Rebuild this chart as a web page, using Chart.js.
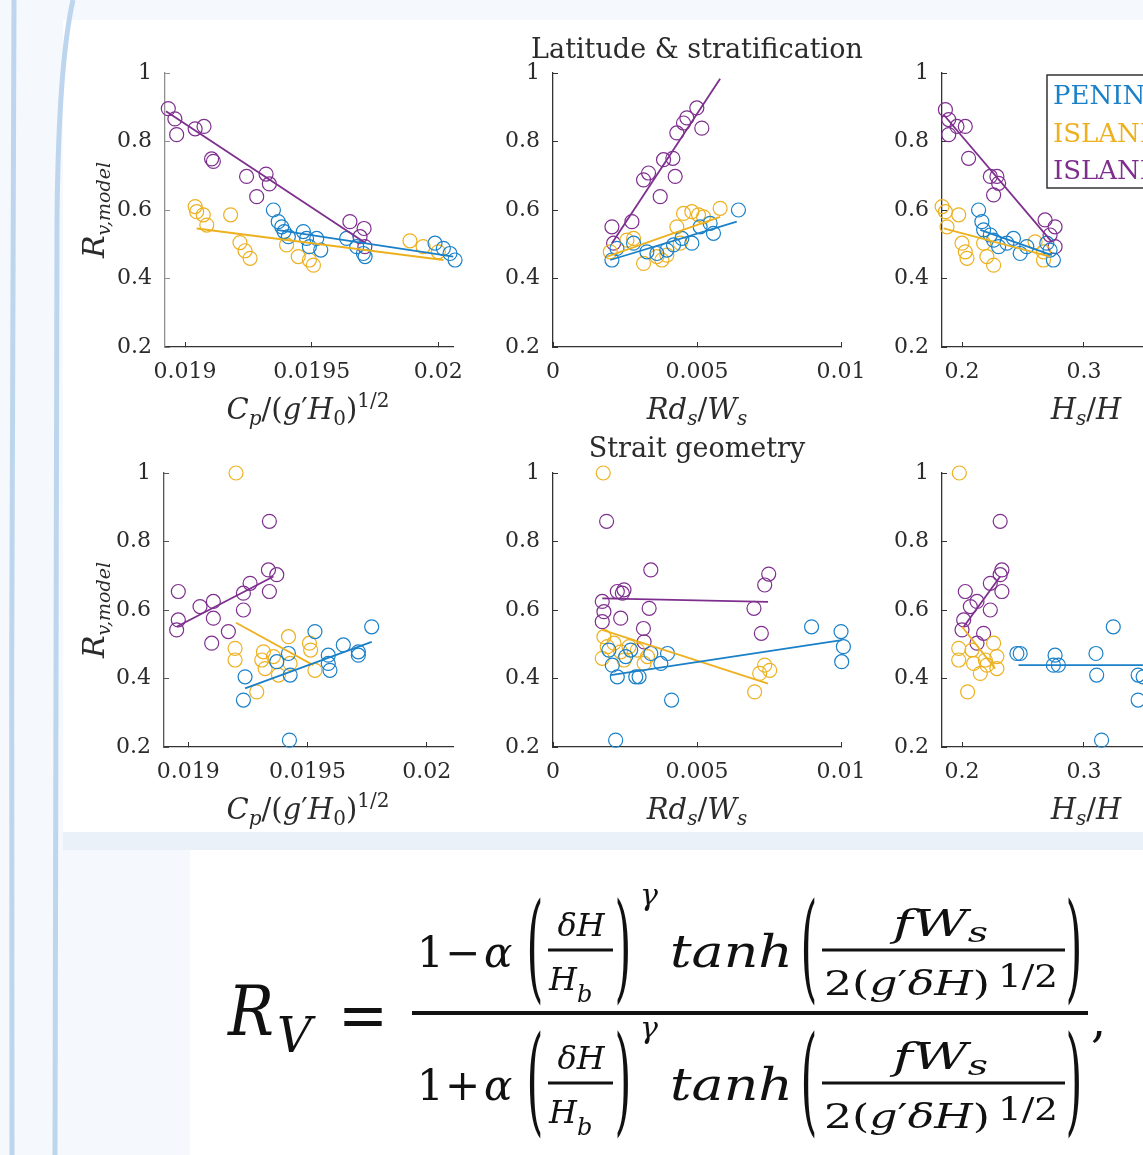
<!DOCTYPE html>
<html>
<head>
<meta charset="utf-8">
<title>Rv model sensitivity</title>
<script src="https://cdn.jsdelivr.net/npm/chart.js@4.4.0/dist/chart.umd.min.js"></script>
<style>
    html, body { margin: 0; padding: 0; width: 1143px; height: 1155px; overflow: hidden; background: #f5f8fc; }
    #panel { position: absolute; left: 63px; top: 20px; width: 1200px; height: 812px; background: #fff; }
    #band { position: absolute; left: 63px; top: 832px; width: 1200px; height: 18px; background: #eaf1f9; }
    #fbox { position: absolute; left: 190px; top: 850px; width: 1100px; height: 305px; background: #fff; }
    #deco, #overlay { position: absolute; left: 0; top: 0; pointer-events: none; }
    canvas { position: absolute; }
    #overlay text { font-family: "DejaVu Serif", serif; fill: #2b2b2b; }
    #overlay .formula text { fill: #111; }
</style>
</head>
<body>
<div id="panel"></div>
<div id="band"></div>
<div id="fbox"></div>
<svg id="deco" width="1143" height="1155">
    <path d="M 14 0 C 12 300, 11 800, 12 1155" stroke="#bdd6ee" stroke-width="5" fill="none"/>
    <path d="M 73 0 C 64 40, 58 110, 57 220 L 55 1155" stroke="#bdd6ee" stroke-width="5" fill="none"/>
</svg>

<canvas id="latCp"></canvas>
<canvas id="latRd"></canvas>
<canvas id="latHs"></canvas>
<canvas id="geoCp"></canvas>
<canvas id="geoRd"></canvas>
<canvas id="geoHs"></canvas>

<svg id="overlay" width="1143" height="1155">
    <!-- panel titles -->
    <text x="697" y="58" font-size="27" text-anchor="middle">Latitude &amp; stratification</text>
    <text x="697" y="457" font-size="27" text-anchor="middle">Strait geometry</text>

    <!-- y axis labels -->
    <text transform="translate(104,210) rotate(-90)" font-size="30" text-anchor="middle"><tspan font-style="italic">R</tspan><tspan font-size="19" dy="6" font-style="italic">v,model</tspan></text>
    <text transform="translate(104,610) rotate(-90)" font-size="30" text-anchor="middle"><tspan font-style="italic">R</tspan><tspan font-size="19" dy="6" font-style="italic">v,model</tspan></text>

    <!-- x axis labels, top row -->
    <text x="308" y="419" font-size="29" text-anchor="middle"><tspan font-style="italic">C</tspan><tspan font-size="20" dy="6" font-style="italic">p</tspan><tspan dy="-6">/(</tspan><tspan font-style="italic">g</tspan>′<tspan font-style="italic">H</tspan><tspan font-size="20" dy="6">0</tspan><tspan dy="-6">)</tspan><tspan font-size="20" dy="-12">1/2</tspan></text>
    <text x="697" y="419" font-size="29" text-anchor="middle"><tspan font-style="italic">Rd</tspan><tspan font-size="20" dy="6" font-style="italic">s</tspan><tspan dy="-6">/</tspan><tspan font-style="italic">W</tspan><tspan font-size="20" dy="6" font-style="italic">s</tspan></text>
    <text x="1086" y="419" font-size="29" text-anchor="middle"><tspan font-style="italic">H</tspan><tspan font-size="20" dy="6" font-style="italic">s</tspan><tspan dy="-6">/</tspan><tspan font-style="italic">H</tspan></text>

    <!-- x axis labels, bottom row -->
    <text x="308" y="819" font-size="29" text-anchor="middle"><tspan font-style="italic">C</tspan><tspan font-size="20" dy="6" font-style="italic">p</tspan><tspan dy="-6">/(</tspan><tspan font-style="italic">g</tspan>′<tspan font-style="italic">H</tspan><tspan font-size="20" dy="6">0</tspan><tspan dy="-6">)</tspan><tspan font-size="20" dy="-12">1/2</tspan></text>
    <text x="697" y="819" font-size="29" text-anchor="middle"><tspan font-style="italic">Rd</tspan><tspan font-size="20" dy="6" font-style="italic">s</tspan><tspan dy="-6">/</tspan><tspan font-style="italic">W</tspan><tspan font-size="20" dy="6" font-style="italic">s</tspan></text>
    <text x="1086" y="819" font-size="29" text-anchor="middle"><tspan font-style="italic">H</tspan><tspan font-size="20" dy="6" font-style="italic">s</tspan><tspan dy="-6">/</tspan><tspan font-style="italic">H</tspan></text>

    <g id="legend"></g>
    <g id="formula" class="formula"></g>
</svg>

<script>
// series order: blue, yellow, purple
const seriesNames = ['PENINSULA', 'ISLAND 1', 'ISLAND 2'];
const seriesColors = ['#1a80c8', '#edb120', '#7e2f8e'];

// tick values and labels
const yTicks = [0.2, 0.4, 0.6, 0.8, 1];
const yTickLabels = ['0.2', '0.4', '0.6', '0.8', '1'];
const cpTicks = [0.019, 0.0195, 0.02];
const cpTickLabels = ['0.019', '0.0195', '0.02'];
const rdTicks = [0, 0.005, 0.01];
const rdTickLabels = ['0', '0.005', '0.01'];
const hsTicks = [0.2, 0.3, 0.4];
const hsTickLabels = ['0.2', '0.3', '0.4'];

// ---- Latitude & stratification, x = Cp/(g'H0)^1/2 ----
const latCpPen = [[0.019349,0.600],[0.019368,0.566],[0.019382,0.551],[0.019391,0.537],[0.019408,0.522],[0.019467,0.537],[0.019480,0.517],[0.019520,0.517],[0.019536,0.483],[0.019491,0.493],[0.019638,0.517],[0.019678,0.493],[0.019704,0.473],[0.019711,0.464],[0.019987,0.503],[0.020020,0.488],[0.020046,0.473],[0.020066,0.454]];
const latCpIsA = [[0.019040,0.610],[0.019046,0.595],[0.019072,0.586],[0.019086,0.556],[0.019180,0.586],[0.019217,0.505],[0.019237,0.481],[0.019257,0.459],[0.019401,0.498],[0.019447,0.464],[0.019491,0.454],[0.019507,0.439],[0.019888,0.510],[0.019940,0.493],[0.020000,0.478]];
const latCpIsB = [[0.018934,0.896],[0.018960,0.866],[0.018967,0.820],[0.019040,0.837],[0.019075,0.844],[0.019105,0.749],[0.019112,0.742],[0.019243,0.698],[0.019283,0.639],[0.019320,0.705],[0.019333,0.676],[0.019651,0.566],[0.019707,0.546],[0.019691,0.522],[0.019710,0.493]];
const latCpPenFit = [[0.019362,0.542],[0.020059,0.464]];
const latCpIsAFit = [[0.019046,0.546],[0.020020,0.454]];
const latCpIsBFit = [[0.018925,0.888],[0.019714,0.503]];

// ---- Latitude & stratification, x = Rds/Ws ----
const latRdPen = [[0.002046,0.454],[0.002220,0.488],[0.002797,0.503],[0.003260,0.478],[0.003607,0.473],[0.003953,0.483],[0.004185,0.498],[0.004474,0.517],[0.004821,0.503],[0.005110,0.551],[0.005572,0.532],[0.005456,0.561],[0.006439,0.600]];
const latRdIsA = [[0.001988,0.478],[0.002566,0.512],[0.002797,0.517],[0.003144,0.444],[0.003607,0.464],[0.003780,0.454],[0.003953,0.468],[0.004300,0.551],[0.004532,0.590],[0.004821,0.595],[0.005052,0.586],[0.005225,0.580],[0.005803,0.605],[0.004416,0.503]];
const latRdIsB = [[0.002046,0.551],[0.002104,0.503],[0.002740,0.566],[0.003144,0.688],[0.003318,0.708],[0.003722,0.639],[0.003838,0.747],[0.004162,0.751],[0.004243,0.698],[0.004300,0.825],[0.004532,0.854],[0.004647,0.869],[0.004994,0.898],[0.005167,0.839]];
const latRdPenFit = [[0.001988,0.454],[0.006381,0.566]];
const latRdIsAFit = [[0.001873,0.464],[0.005803,0.580]];
const latRdIsBFit = [[0.002046,0.503],[0.005803,0.983]];

// ---- Latitude & stratification, x = Hs/H ----
const latHsPen = [[0.2136,0.600],[0.2163,0.566],[0.2177,0.542],[0.2232,0.527],[0.2259,0.512],[0.2300,0.493],[0.2422,0.517],[0.2477,0.473],[0.2531,0.493],[0.2695,0.503],[0.2722,0.483],[0.2749,0.454],[0.2368,0.503]];
const latHsIsA = [[0.1837,0.610],[0.1864,0.595],[0.1973,0.586],[0.1877,0.551],[0.2000,0.503],[0.2027,0.478],[0.2041,0.459],[0.2204,0.464],[0.2259,0.439],[0.2177,0.503],[0.2599,0.507],[0.2668,0.454],[0.2668,0.478]];
const latHsIsB = [[0.1864,0.893],[0.1891,0.864],[0.1891,0.820],[0.1959,0.844],[0.2027,0.844],[0.2054,0.751],[0.2232,0.698],[0.2286,0.698],[0.2300,0.678],[0.2259,0.644],[0.2681,0.571],[0.2763,0.551],[0.2722,0.527],[0.2763,0.493]];
const latHsPenFit = [[0.2150,0.542],[0.2736,0.468]];
const latHsIsAFit = [[0.1850,0.546],[0.2722,0.464]];
const latHsIsBFit = [[0.1850,0.878],[0.2736,0.507]];

// ---- Strait geometry, x = Cp/(g'H0)^1/2 ----
const geoCpPen = [[0.019238,0.405],[0.019231,0.337],[0.019371,0.449],[0.019420,0.473],[0.019427,0.410],[0.019424,0.220],[0.019531,0.537],[0.019587,0.468],[0.019587,0.444],[0.019594,0.424],[0.019650,0.498],[0.019713,0.468],[0.019713,0.478],[0.019769,0.551]];
const geoCpIsA = [[0.019200,1.000],[0.019196,0.488],[0.019196,0.454],[0.019287,0.361],[0.019315,0.478],[0.019308,0.454],[0.019322,0.429],[0.019357,0.464],[0.019378,0.410],[0.019420,0.522],[0.019427,0.444],[0.019508,0.503],[0.019513,0.483],[0.019531,0.424]];
const geoCpIsB = [[0.018958,0.654],[0.018958,0.571],[0.018951,0.542],[0.019049,0.610],[0.019105,0.625],[0.019105,0.576],[0.019098,0.503],[0.019168,0.537],[0.019231,0.649],[0.019231,0.600],[0.019259,0.678],[0.019336,0.717],[0.019340,0.654],[0.019371,0.703],[0.019340,0.859]];
const geoCpPenFit = [[0.019238,0.371],[0.019769,0.507]];
const geoCpIsAFit = [[0.019200,0.563],[0.019524,0.439]];
const geoCpIsBFit = [[0.018951,0.551],[0.019357,0.698]];

// ---- Strait geometry, x = Rds/Ws ----
const geoRdPen = [[0.001942,0.483],[0.002059,0.439],[0.002233,0.405],[0.002524,0.464],[0.002698,0.483],[0.002873,0.405],[0.002989,0.405],[0.003396,0.473],[0.003745,0.444],[0.003977,0.473],[0.004117,0.337],[0.002175,0.220],[0.008978,0.551],[0.010001,0.537],[0.010083,0.493],[0.010024,0.449]];
const geoRdIsA = [[0.001744,1.000],[0.001768,0.522],[0.001710,0.459],[0.001884,0.493],[0.002117,0.503],[0.002350,0.478],[0.002466,0.454],[0.002640,0.493],[0.002931,0.483],[0.003164,0.444],[0.003280,0.464],[0.007001,0.361],[0.007176,0.415],[0.007350,0.439],[0.007525,0.424]];
const geoRdIsB = [[0.001861,0.859],[0.001710,0.625],[0.001768,0.595],[0.001710,0.566],[0.002350,0.576],[0.002233,0.654],[0.002466,0.659],[0.002408,0.649],[0.003396,0.717],[0.003338,0.605],[0.003140,0.546],[0.003164,0.507],[0.006978,0.605],[0.007234,0.532],[0.007350,0.673],[0.007490,0.705]];
const geoRdPenFit = [[0.002000,0.410],[0.010024,0.512]];
const geoRdIsAFit = [[0.001710,0.542],[0.007467,0.385]];
const geoRdIsBFit = [[0.001710,0.634],[0.007467,0.624]];

// ---- Strait geometry, x = Hs/H ----
const geoHsPen = [[0.2450,0.473],[0.2477,0.473],[0.2763,0.468],[0.2749,0.439],[0.2790,0.439],[0.3240,0.551],[0.3098,0.473],[0.3104,0.410],[0.3144,0.220],[0.3444,0.410],[0.3444,0.337],[0.3485,0.405]];
const geoHsIsA = [[0.1978,1.000],[0.2046,0.361],[0.1973,0.488],[0.1973,0.454],[0.2082,0.483],[0.2095,0.444],[0.2150,0.415],[0.2191,0.454],[0.2259,0.503],[0.2286,0.464],[0.2286,0.429],[0.2204,0.439]];
const geoHsIsB = [[0.2313,0.859],[0.2327,0.717],[0.2313,0.703],[0.2232,0.678],[0.2327,0.654],[0.2027,0.654],[0.2123,0.625],[0.2068,0.610],[0.2232,0.600],[0.2014,0.571],[0.2000,0.542],[0.2177,0.532],[0.2123,0.503]];
const geoHsPenFit = [[0.2463,0.439],[0.4000,0.439]];
const geoHsIsAFit = [[0.2000,0.551],[0.2272,0.429]];
const geoHsIsBFit = [[0.2014,0.551],[0.2313,0.698]];

// padding around each axes box inside its canvas
const PAD = { l: 90, t: 20, r: 24, b: 60 };

// box = [left, right, top, bottom] of the axes on the page
const panels = [
    { el: 'latCp', box: [165, 453, 73, 347], xRange: [0.018921, 0.020058], xTicks: cpTicks, xLabels: cpTickLabels,
      series: [latCpPen, latCpIsA, latCpIsB], fits: [latCpPenFit, latCpIsAFit, latCpIsBFit], yAxisColor: '#8f8f8f' },
    { el: 'latRd', box: [553, 841, 73, 347], xRange: [0, 0.01], xTicks: rdTicks, xLabels: rdTickLabels,
      series: [latRdPen, latRdIsA, latRdIsB], fits: [latRdPenFit, latRdIsAFit, latRdIsBFit], yAxisColor: '#333' },
    { el: 'latHs', box: [942, 1230, 73, 347], xRange: [0.1836, 0.4197], xTicks: hsTicks, xLabels: hsTickLabels,
      series: [latHsPen, latHsIsA, latHsIsB], fits: [latHsPenFit, latHsIsAFit, latHsIsBFit], yAxisColor: '#333' },
    { el: 'geoCp', box: [164, 453, 473, 747], xRange: [0.018898, 0.020110], xTicks: cpTicks, xLabels: cpTickLabels,
      series: [geoCpPen, geoCpIsA, geoCpIsB], fits: [geoCpPenFit, geoCpIsAFit, geoCpIsBFit], yAxisColor: '#555' },
    { el: 'geoRd', box: [553, 841, 473, 747], xRange: [0, 0.01], xTicks: rdTicks, xLabels: rdTickLabels,
      series: [geoRdPen, geoRdIsA, geoRdIsB], fits: [geoRdPenFit, geoRdIsAFit, geoRdIsBFit], yAxisColor: '#333' },
    { el: 'geoHs', box: [942, 1230, 473, 747], xRange: [0.1836, 0.4197], xTicks: hsTicks, xLabels: hsTickLabels,
      series: [geoHsPen, geoHsIsA, geoHsIsB], fits: [geoHsPenFit, geoHsIsAFit, geoHsIsBFit], yAxisColor: '#333' }
];

const toXY = pts => pts.map(p => ({ x: p[0], y: p[1] }));
const tickFont = { family: 'DejaVu Serif', size: 22 };

// keep the axes box exactly where it is asked, whatever the label sizes
function pinScale(s, size) {
    if (s.isHorizontal()) s.height = size; else s.width = size;
    s.paddingTop = 0; s.paddingBottom = 0; s.paddingLeft = 0; s.paddingRight = 0;
}

function buildChart(p) {
    const cv = document.getElementById(p.el);
    const w = p.box[1] - p.box[0], h = p.box[3] - p.box[2];
    cv.width = w + PAD.l + PAD.r;
    cv.height = h + PAD.t + PAD.b;
    cv.style.left = (p.box[0] - PAD.l) + 'px';
    cv.style.top = (p.box[2] - PAD.t) + 'px';
    cv.style.width = cv.width + 'px';
    cv.style.height = cv.height + 'px';

    const datasets = [];
    // fit lines first so they sit on top of the circles
    p.fits.forEach((f, i) => datasets.push({
        data: toXY(f), showLine: true, borderColor: seriesColors[i], borderWidth: 1.8,
        pointRadius: 0, clip: false
    }));
    p.series.forEach((s, i) => datasets.push({
        data: toXY(s), showLine: false, borderColor: seriesColors[i], backgroundColor: 'rgba(0,0,0,0)',
        pointRadius: 7, pointBorderWidth: 1.2, borderWidth: 1.2, clip: false
    }));

    new Chart(cv, {
        type: 'scatter',
        data: { datasets },
        options: {
            responsive: false,
            animation: false,
            events: [],
            layout: { padding: { left: 0, top: PAD.t, right: PAD.r, bottom: 0 }, autoPadding: false },
            plugins: { legend: { display: false }, tooltip: { enabled: false } },
            scales: {
                x: {
                    type: 'linear', min: p.xRange[0], max: p.xRange[1],
                    grid: { display: true, drawOnChartArea: false, drawTicks: true, tickLength: -5, color: '#333' },
                    border: { display: true, color: '#333', width: 1.3 },
                    ticks: { font: tickFont, color: '#2b2b2b', padding: 17, autoSkip: false, maxRotation: 0,
                             callback: (v, i) => p.xLabels[i] },
                    afterBuildTicks: s => { s.ticks = p.xTicks.map(v => ({ value: v })); },
                    afterFit: s => pinScale(s, PAD.b)
                },
                y: {
                    type: 'linear', min: 0.2, max: 1,
                    grid: { display: true, drawOnChartArea: false, drawTicks: true, tickLength: -5, color: p.yAxisColor },
                    border: { display: true, color: p.yAxisColor, width: 1.3 },
                    ticks: { font: tickFont, color: '#2b2b2b', padding: 18, autoSkip: false,
                             callback: (v, i) => yTickLabels[i] },
                    afterBuildTicks: s => { s.ticks = yTicks.map(v => ({ value: v })); },
                    afterFit: s => pinScale(s, PAD.l)
                }
            }
        }
    });
}

panels.forEach(buildChart);

// legend, built from the series names and colours
const legendRows = [104, 142, 179];
let lg = '<rect x="1047" y="75" width="260" height="113" fill="#fff" stroke="#333" stroke-width="1.5"/>';
seriesNames.forEach((name, i) => {
    lg += `<text x="1053" y="${legendRows[i]}" font-size="26" style="fill:${seriesColors[i]}">${name}</text>`;
});
document.getElementById('legend').innerHTML = lg;

// the formula under the figure
function paren(ch, cx, cy) {
    return `<text x="0" y="0" font-size="60" text-anchor="middle" dominant-baseline="central" transform="translate(${cx},${cy}) scale(0.72,1.95)">${ch}</text>`;
}
function formulaRow(dy, sign) {
    const y = v => v + dy;
    const fit = 'lengthAdjust="spacingAndGlyphs"';
    return `
    <text x="417" y="${y(967)}" font-size="42">1</text>
    <text x="445" y="${y(967)}" font-size="42">${sign}</text>
    <text x="484" y="${y(967)}" font-size="42" font-style="italic">α</text>
    ${paren('(', 535, y(947))}
    <text x="581" y="${y(936)}" font-size="32" font-style="italic" text-anchor="middle">δH</text>
    <line x1="548" x2="613" y1="${y(950)}" y2="${y(950)}" stroke="#111" stroke-width="3"/>
    <text x="549" y="${y(990)}" font-size="32" font-style="italic">H<tspan font-size="24" dy="12">b</tspan></text>
    ${paren(')', 623, y(947))}
    <text x="640" y="${y(905)}" font-size="30" font-style="italic">γ</text>
    <text x="670" y="${y(967)}" font-size="44" font-style="italic" textLength="123" ${fit}>tanh</text>
    ${paren('(', 809, y(947))}
    <text x="893" y="${y(936)}" font-size="38" font-style="italic" textLength="95" ${fit}>fW<tspan font-size="28" dy="6">s</tspan></text>
    <line x1="822" x2="1065" y1="${y(950)}" y2="${y(950)}" stroke="#111" stroke-width="3"/>
    <text x="824" y="${y(995)}" font-size="34" textLength="166" ${fit}>2(<tspan font-style="italic">g</tspan>′<tspan font-style="italic">δH</tspan>)</text>
    <text x="998" y="${y(987)}" font-size="32" textLength="60" ${fit}>1/2</text>
    ${paren(')', 1074, y(947))}`;
}
let fm = '';
fm += '<text x="228" y="1035" font-size="70" font-style="italic" textLength="46" lengthAdjust="spacingAndGlyphs">R</text>';
fm += '<text x="277" y="1052" font-size="48" font-style="italic">V</text>';
fm += '<text x="338" y="1037" font-size="64" textLength="50" lengthAdjust="spacingAndGlyphs">=</text>';
fm += '<line x1="412" x2="1088" y1="1013" y2="1013" stroke="#111" stroke-width="4"/>';
fm += formulaRow(0, '−');
fm += formulaRow(133, '+');
fm += '<text x="1091" y="1036" font-size="48">,</text>';
document.getElementById('formula').innerHTML = fm;
</script>
</body>
</html>
